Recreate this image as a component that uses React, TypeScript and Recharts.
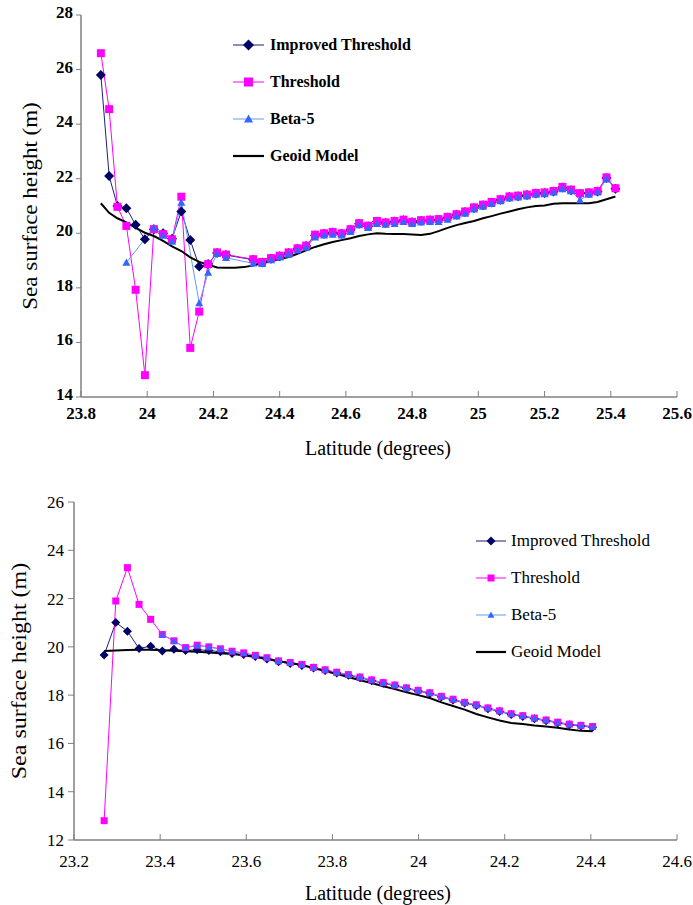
import React from 'react';
import { LineChart, Line, XAxis, YAxis, Legend } from 'recharts';

// ---------- Top chart data ----------
const topLat = [
  23.86, 23.885, 23.91, 23.937, 23.965, 23.993, 24.02, 24.048, 24.075, 24.103, 24.13, 24.157, 24.184, 24.211, 24.238, 24.265, 24.292,
  24.32, 24.347, 24.374, 24.4, 24.427, 24.454, 24.48, 24.507, 24.534, 24.56, 24.587, 24.614, 24.64, 24.667, 24.694, 24.72, 24.747,
  24.774, 24.8, 24.827, 24.854, 24.88, 24.907, 24.934, 24.96, 24.987, 25.014, 25.04, 25.067, 25.094, 25.12, 25.147, 25.174, 25.2,
  25.227, 25.254, 25.28, 25.307, 25.334, 25.36, 25.387, 25.414,
];
const topImproved = [
  25.8, 22.1, 21.0, 20.92, 20.31, 19.78, 20.15, 20.0, 19.8, 20.8, 19.75, 18.78, 18.87, 19.28, 19.2, null, null,
  19.03, 18.93, 19.07, 19.16, 19.28, 19.43, 19.53, 19.93, 19.98, 20.03, 19.98, 20.13, 20.35, 20.26, 20.43, 20.38, 20.43,
  20.48, 20.4, 20.46, 20.48, 20.5, 20.58, 20.68, 20.78, 20.93, 21.03, 21.13, 21.23, 21.33, 21.36, 21.4, 21.46, 21.48,
  21.53, 21.68, 21.58, 21.45, 21.48, 21.53, 22.03, 21.63,
];
const topThreshold = [
  26.6, 24.55, 20.97, 20.27, 17.93, 14.8, 20.15, 19.97, 19.78, 21.34, 15.8, 17.13, 18.87, 19.3, 19.22, null, null,
  19.05, 18.95, 19.09, 19.18, 19.3, 19.45, 19.55, 19.95, 20.0, 20.05, 20.0, 20.15, 20.37, 20.28, 20.45, 20.4, 20.45,
  20.5, 20.42, 20.48, 20.5, 20.52, 20.6, 20.7, 20.8, 20.95, 21.05, 21.15, 21.25, 21.35, 21.38, 21.42, 21.48, 21.5,
  21.55, 21.7, 21.6, 21.47, 21.5, 21.55, 22.05, 21.65,
];
const topBeta = [
  null, null, null, 18.93, null, null, 20.2, 19.92, 19.7, 21.13, null, 17.44, 18.56, 19.25, 19.1, null, null,
  18.9, 18.88, 19.02, 19.12, 19.22, 19.38, 19.48, 19.85, 19.93, 19.95, 19.93, 20.05, 20.3, 20.2, 20.35, 20.32, 20.35,
  20.42, 20.35, 20.4, 20.42, 20.42, 20.5, 20.62, 20.72, 20.88, 20.98, 21.08, 21.18, 21.28, 21.32, 21.36, 21.42, 21.44,
  21.5, 21.62, 21.55, 21.22, 21.42, 21.5, 21.98, null,
];
const topGeoid = [
  21.1, 20.75, 20.55, 20.4, 20.2, 20.02, 19.9, 19.72, 19.52, 19.35, 19.12, 18.95, 18.85, 18.75, 18.74, 18.74, 18.76,
  18.82, 18.9, 18.98, 19.05, 19.13, 19.25, 19.38, 19.5, 19.6, 19.68, 19.75, 19.82, 19.9, 19.96, 20.0, 19.98, 19.97,
  19.97, 19.96, 19.94, 19.98, 20.08, 20.2, 20.3, 20.38, 20.45, 20.55, 20.63, 20.72, 20.8, 20.88, 20.95, 21.0, 21.02,
  21.08, 21.1, 21.1, 21.1, 21.1, 21.15, 21.25, 21.35,
];
const topXTicks = [23.8, 24, 24.2, 24.4, 24.6, 24.8, 25, 25.2, 25.4, 25.6];
const topYTicks = [14, 16, 18, 20, 22, 24, 26, 28];

// ---------- Bottom chart data ----------
const botLat = [
  23.27, 23.297, 23.324, 23.351, 23.378, 23.405, 23.432, 23.459, 23.486, 23.513, 23.54, 23.567, 23.594, 23.621, 23.648,
  23.675, 23.702, 23.729, 23.756, 23.783, 23.81, 23.837, 23.864, 23.891, 23.918, 23.945, 23.972, 23.999, 24.026, 24.053,
  24.08, 24.107, 24.134, 24.161, 24.188, 24.215, 24.242, 24.269, 24.296, 24.323, 24.35, 24.377, 24.404,
];
const botImproved = [
  19.66, 21.01, 20.65, 19.93, 20.03, 19.83, 19.9, 19.85, 19.88, 19.85, 19.8, 19.72, 19.68, 19.6, 19.5,
  19.38, 19.31, 19.23, 19.12, 19.02, 18.92, 18.82, 18.72, 18.6, 18.49, 18.39, 18.27, 18.17, 18.07, 17.92,
  17.8, 17.67, 17.57, 17.44, 17.32, 17.2, 17.12, 17.02, 16.94, 16.85, 16.77, 16.72, 16.67,
];
const botThreshold = [
  12.8, 21.9, 23.28, 21.76, 21.14, 20.51, 20.25, 19.97, 20.07, 20.0, 19.92, 19.82, 19.75, 19.65, 19.55,
  19.42, 19.35, 19.27, 19.15, 19.05, 18.95, 18.85, 18.75, 18.63, 18.52, 18.42, 18.3, 18.2, 18.1, 17.95,
  17.83, 17.7, 17.6, 17.47, 17.35, 17.23, 17.15, 17.05, 16.97, 16.88, 16.8, 16.75, 16.7,
];
const botBeta = [
  null, null, null, null, null, 20.5, 20.24, 19.96, 20.06, 19.99, 19.91, 19.81, 19.74, 19.64, 19.54,
  19.41, 19.34, 19.26, 19.14, 19.04, 18.94, 18.84, 18.74, 18.62, 18.51, 18.41, 18.29, 18.19, 18.09, 17.94,
  17.82, 17.69, 17.59, 17.46, 17.34, 17.22, 17.14, 17.04, 16.96, 16.87, 16.79, 16.74, 16.69,
];
const botGeoid = [
  19.83, 19.85, 19.87, 19.88, 19.88, 19.86, 19.84, 19.82, 19.8, 19.77, 19.74, 19.7, 19.65, 19.58, 19.5,
  19.4, 19.33, 19.25, 19.12, 19.0, 18.87, 18.75, 18.62, 18.5, 18.37, 18.25, 18.12, 18.0, 17.88, 17.7,
  17.55, 17.4, 17.22, 17.08, 16.95, 16.85, 16.8, 16.74, 16.7, 16.65, 16.58, 16.52, 16.5,
];
const botXTicks = [23.2, 23.4, 23.6, 23.8, 24, 24.2, 24.4, 24.6];
const botYTicks = [12, 14, 16, 18, 20, 22, 24, 26];

const seriesNames = ['Improved Threshold', 'Threshold', 'Beta-5', 'Geoid Model'];
const xTitle = 'Latitude (degrees)';
const yTitle = 'Sea surface height (m)';

// ---------- styling ----------
const FONT = "'Liberation Serif', 'Times New Roman', serif";
const AXIS = '#808080';
const C_IMP = '#000066';
const C_IMP_LINE = '#1f1f7a';
const C_THR = '#ff00ff';
const C_BETA = '#3366ff';
const C_BETA_LINE = '#6699ff';
const C_GEO = '#000000';

const buildRows = (lat, a, b, c, d) =>
  lat.map((x, i) => ({ lat: x, imp: a[i], thr: b[i], beta: c[i], geo: d[i] }));

const topRows = buildRows(topLat, topImproved, topThreshold, topBeta, topGeoid);
const botRows = buildRows(botLat, botImproved, botThreshold, botBeta, botGeoid);

const diamondShape = (cx, cy, r, fill, key?) => (
  <polygon key={key} points={`${cx},${cy - r} ${cx + r},${cy} ${cx},${cy + r} ${cx - r},${cy}`} fill={fill} />
);
const squareShape = (cx, cy, r, fill, key?) => (
  <rect key={key} x={cx - r} y={cy - r} width={2 * r} height={2 * r} fill={fill} />
);
const triangleShape = (cx, cy, r, fill, key?) => (
  <polygon key={key} points={`${cx},${cy - r} ${cx + r},${cy + r * 0.8} ${cx - r},${cy + r * 0.8}`} fill={fill} />
);

const makeDot = (shape, r, fill, tag) => (props) => {
  const { cx, cy, index, value } = props;
  const key = `${tag}-${index}`;
  if (cx == null || cy == null || value == null || Number.isNaN(cy)) return <g key={key} />;
  return shape(cx, cy, r, fill, key);
};

const makeXTick = (fontSize, bold, dy) => (props) => {
  const { x, y, payload } = props;
  return (
    <g>
      <line x1={x} x2={x} y1={y} y2={y - 6} stroke={AXIS} strokeWidth={1} />
      <text x={x} y={y + dy} textAnchor="middle" fontSize={fontSize} fontWeight={bold ? 'bold' : 'normal'} fontFamily={FONT} fill="#000">
        {payload.value}
      </text>
    </g>
  );
};

const makeYTick = (fontSize, bold, dy) => (props) => {
  const { x, y, payload } = props;
  return (
    <text x={x} y={y + dy} textAnchor="end" fontSize={fontSize} fontWeight={bold ? 'bold' : 'normal'} fontFamily={FONT} fill="#000">
      {payload.value}
    </text>
  );
};

const LegendBox = ({ fontSize, bold, rowH, svgW, gap, r }) => (
  <div style={{ fontFamily: FONT, fontSize, fontWeight: bold ? 'bold' : 'normal', color: '#000', whiteSpace: 'nowrap' }}>
    {seriesNames.map((name, i) => (
      <div key={name} style={{ display: 'flex', alignItems: 'center', height: rowH }}>
        <svg width={svgW} height={16} style={{ display: 'block' }}>
          {i === 0 && <line x1={0} x2={svgW} y1={8} y2={8} stroke={C_IMP_LINE} strokeWidth={1} />}
          {i === 0 && diamondShape(svgW / 2, 8, r + 1, C_IMP)}
          {i === 1 && <line x1={0} x2={svgW} y1={8} y2={8} stroke={C_THR} strokeWidth={1} />}
          {i === 1 && squareShape(svgW / 2, 8, r, C_THR)}
          {i === 2 && <line x1={0} x2={svgW} y1={8} y2={8} stroke={C_BETA_LINE} strokeWidth={1} />}
          {i === 2 && triangleShape(svgW / 2, 8, r, C_BETA)}
          {i === 3 && <line x1={0} x2={svgW} y1={8} y2={8} stroke={C_GEO} strokeWidth={2.2} />}
        </svg>
        <span style={{ marginLeft: gap, lineHeight: 1 }}>{name}</span>
      </div>
    ))}
  </div>
);

const yTitleRenderer = (x, y, size, stretch) => () => (
  <text
    transform={`translate(${x},${y}) rotate(-90) scale(${stretch},1)`}
    textAnchor="middle"
    dominantBaseline="central"
    fontSize={size}
    fontFamily={FONT}
    fill="#000"
  >
    {yTitle}
  </text>
);

const xTitleRenderer = (x, y, size) => () => (
  <text x={x} y={y} textAnchor="middle" dominantBaseline="central" fontSize={size} fontFamily={FONT} fill="#000">
    {xTitle}
  </text>
);

const renderSeries = (r, tagPrefix) => [
  <Line
    key="imp"
    dataKey="imp"
    stroke={C_IMP_LINE}
    strokeWidth={1}
    connectNulls
    isAnimationActive={false}
    dot={makeDot(diamondShape, r + 1, C_IMP, tagPrefix + 'imp')}
    activeDot={false}
  />,
  <Line
    key="thr"
    dataKey="thr"
    stroke={C_THR}
    strokeWidth={1}
    connectNulls
    isAnimationActive={false}
    dot={makeDot(squareShape, r, C_THR, tagPrefix + 'thr')}
    activeDot={false}
  />,
  <Line
    key="beta"
    dataKey="beta"
    stroke={C_BETA_LINE}
    strokeWidth={1}
    connectNulls
    isAnimationActive={false}
    dot={makeDot(triangleShape, r, C_BETA, tagPrefix + 'beta')}
    activeDot={false}
  />,
  <Line
    key="geo"
    dataKey="geo"
    stroke={C_GEO}
    strokeWidth={2}
    connectNulls
    isAnimationActive={false}
    dot={false}
    activeDot={false}
  />,
];

export default function App() {
  return (
    <div style={{ position: 'absolute', left: 0, top: 0, width: 693, height: 905, background: '#fff', fontFamily: FONT }}>
      {/* Top chart: plot area x 81..677, y 15..397 */}
      <div style={{ position: 'absolute', left: 0, top: 0 }}>
        <LineChart width={693} height={470} data={topRows} margin={{ top: 15, right: 16, left: 51, bottom: 43 }}>
          <XAxis
            dataKey="lat"
            type="number"
            domain={[23.8, 25.6]}
            ticks={topXTicks}
            interval={0}
            height={30}
            tickSize={0}
            tickMargin={0}
            tickLine={false}
            axisLine={{ stroke: AXIS, strokeWidth: 1.5 }}
            tick={makeXTick(17, true, 22)}
            label={xTitleRenderer(378, 448, 20)}
          />
          <XAxis xAxisId="top" orientation="top" type="number" domain={[23.8, 25.6]} height={0} tick={false} tickLine={false} axisLine={{ stroke: AXIS, strokeWidth: 1.5 }} />
          <YAxis
            type="number"
            domain={[14, 28]}
            ticks={topYTicks}
            interval={0}
            width={30}
            tickSize={5}
            tickMargin={3}
            tickLine={{ stroke: AXIS }}
            axisLine={{ stroke: AXIS, strokeWidth: 1.5 }}
            tick={makeYTick(17, true, 3)}
            label={yTitleRenderer(31, 206, 20, 1.15)}
          />
          <YAxis yAxisId="right" orientation="right" type="number" domain={[14, 28]} width={0} tick={false} tickLine={false} axisLine={{ stroke: AXIS, strokeWidth: 1.5 }} />
          <Legend
            layout="vertical"
            align="center"
            verticalAlign="middle"
            wrapperStyle={{ left: 233, top: 26, width: 220 }}
            content={() => <LegendBox fontSize={16} bold={true} rowH={37} svgW={31} gap={6} r={4.5} />}
          />
          {renderSeries(4, 't')}
        </LineChart>
      </div>

      {/* Bottom chart: plot area x 74..677, y 502..840 */}
      <div style={{ position: 'absolute', left: 0, top: 470 }}>
        <LineChart width={693} height={435} data={botRows} margin={{ top: 32, right: 16, left: 44, bottom: 35 }}>
          <XAxis
            dataKey="lat"
            type="number"
            domain={[23.2, 24.6]}
            ticks={botXTicks}
            interval={0}
            height={30}
            tickSize={0}
            tickMargin={0}
            tickLine={false}
            axisLine={{ stroke: AXIS, strokeWidth: 1.5 }}
            tick={makeXTick(17, false, 27)}
            label={xTitleRenderer(378, 423, 20)}
          />
          <XAxis xAxisId="top" orientation="top" type="number" domain={[23.2, 24.6]} height={0} tick={false} tickLine={false} axisLine={{ stroke: AXIS, strokeWidth: 1.5 }} />
          <YAxis
            type="number"
            domain={[12, 26]}
            ticks={botYTicks}
            interval={0}
            width={30}
            tickSize={6}
            tickMargin={4}
            tickLine={{ stroke: AXIS }}
            axisLine={{ stroke: AXIS, strokeWidth: 1.5 }}
            tick={makeYTick(17, false, 6)}
            label={yTitleRenderer(19, 201, 20, 1.2)}
          />
          <YAxis yAxisId="right" orientation="right" type="number" domain={[12, 26]} width={0} tick={false} tickLine={false} axisLine={{ stroke: AXIS, strokeWidth: 1.5 }} />
          <Legend
            layout="vertical"
            align="center"
            verticalAlign="middle"
            wrapperStyle={{ left: 476, top: 52, width: 210 }}
            content={() => <LegendBox fontSize={17} bold={false} rowH={37} svgW={30} gap={5} r={3.5} />}
          />
          {renderSeries(3.5, 'b')}
        </LineChart>
      </div>
    </div>
  );
}
